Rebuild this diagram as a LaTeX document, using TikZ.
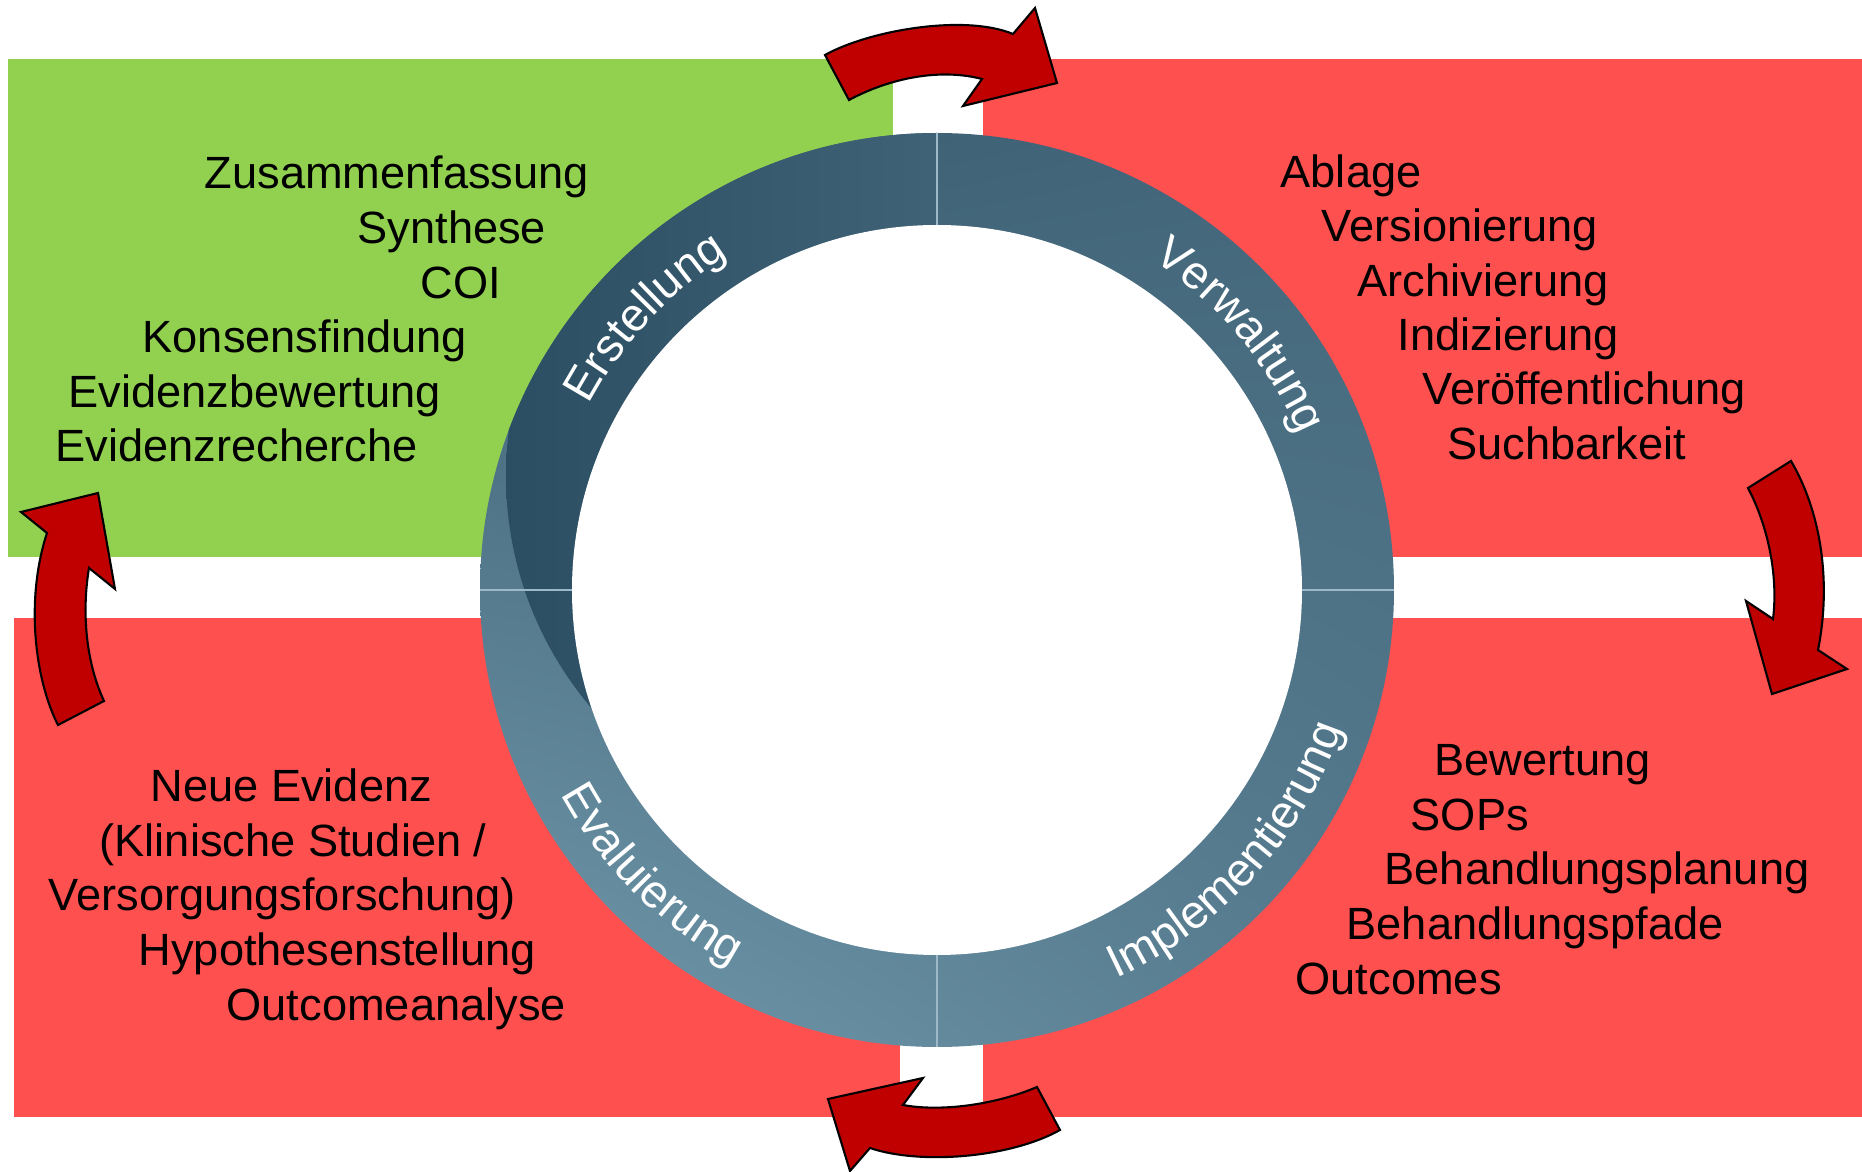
\documentclass[tikz,border=0pt]{standalone}
\usepackage{fontspec}
\setmainfont{Liberation Sans}
\usetikzlibrary{positioning,decorations.text,shadings}
\definecolor{leafgreen}{HTML}{92D050}
\definecolor{softred}{HTML}{FF5050}
\definecolor{darkred}{HTML}{C00000}
\definecolor{ringtop}{HTML}{3F6276}
\definecolor{ringdark}{HTML}{2A4D61}
\definecolor{ringul}{HTML}{3A5D71}
\definecolor{ringur}{HTML}{44677B}
\definecolor{ringll}{HTML}{7299AC}
\definecolor{ringlr}{HTML}{567B8F}
\definecolor{ringline}{HTML}{9DB9C8}
\newcommand\ringfont{\fontsize{13.2pt}{15pt}\selectfont\color{white}}

\begin{document}
\begin{tikzpicture}[x=0.01cm,y=0.01cm,
  item/.style={anchor=base west,inner sep=0pt,font=\fontsize{12.85pt}{15pt}\selectfont},
  turn/.style={fill=darkred,draw=black,line width=0.6pt,line join=miter},
  sepline/.style={draw=ringline,line width=0.5pt},
  ringtext/.style={decorate,decoration={text along path,text align=center,text={|\ringfont|#1}}}]
\useasboundingbox (0,0) rectangle (1862,1172);
\fill[leafgreen] (8,615) rectangle (893,1113);
\fill[softred] (983,615) rectangle (1862,1113);
\fill[softred] (14,55) rectangle (900,554);
\fill[softred] (983,55) rectangle (1862,554);

\begin{scope}[shift={(937,582)}]
  \begin{scope}
    \clip (0,0) circle[radius=457];
    \shade[upper left=ringul,upper right=ringur,lower left=ringll,lower right=ringlr] (-457,-457) rectangle (457,457);
    \clip (-73,114) circle[radius=358];
    \shade[left color=ringdark,right color=ringtop] (-457,-457) rectangle (0,457);
  \end{scope}
  \fill[white] (0,0) circle[radius=365];
  \draw[sepline] (0,365) -- (0,457);
  \draw[sepline] (0,-365) -- (0,-457);
  \draw[sepline] (365,0) -- (457,0);
  \draw[sepline] (-365,0) -- (-457,0);
  \path[ringtext=Erstellung] (172:394) arc[start angle=172,end angle=102,radius=394];
  \path[ringtext=Verwaltung] (75:394) arc[start angle=75,end angle=5,radius=394];
  \path[ringtext=Implementierung] (-84:428) arc[start angle=-84,end angle=0,radius=428];
  \path[ringtext=Evaluierung] (190:428) arc[start angle=190,end angle=260,radius=428];
\end{scope}

\fill[turn] (825,1117) .. controls (870,1142) and (965,1158) .. (1013,1138) -- (1035,1164) -- (1057,1089) -- (963,1066) -- (982,1093) .. controls (940,1104) and (890,1094) .. (849,1072) -- cycle;
\draw[turn] (1748,684) -- (1791,711) .. controls (1820,662) and (1832,592) .. (1818,522) -- (1847,503) -- (1772,478) -- (1746,571) -- (1773,553) .. controls (1778,592) and (1770,642) .. (1748,684) -- cycle;
\draw[turn] (828,73) -- (923,94) -- (903,67) .. controls (940,60) and (995,67) .. (1037,85) -- (1060,42) .. controls (1010,14) and (920,7) .. (870,24) -- (850,1) -- cycle;
\draw[turn] (98,679) -- (115,583) -- (89,604) .. controls (82,562) and (85,512) .. (104,471) -- (58,447) .. controls (35,492) and (25,572) .. (47,639) -- (21,660) -- cycle;

\node[item] (g1) at (204,983) {Zusammenfassung};
\node[item] (g2) at (357,928) {Synthese};
\node[item] (g3) at (420,873) {COI};
\node[item] (g4) at (142,819) {Konsensfindung};
\node[item] (g5) at (68,764) {Evidenzbewertung};
\node[item] (g6) at (55,710) {Evidenzrecherche};

\node[item] (v1) at (1280,984) {Ablage};
\node[item] (v2) at (1321,930) {Versionierung};
\node[item] (v3) at (1357,875) {Archivierung};
\node[item] (v4) at (1397,821) {Indizierung};
\node[item] (v5) at (1422,767) {Veröffentlichung};
\node[item] (v6) at (1447,712) {Suchbarkeit};

\node[item] (i1) at (1434,396) {Bewertung};
\node[item] (i2) at (1410,341) {SOPs};
\node[item] (i3) at (1384,287) {Behandlungsplanung};
\node[item] (i4) at (1346,232) {Behandlungspfade};
\node[item] (i5) at (1295,177) {Outcomes};

\node[item] (e1) at (150,370) {Neue Evidenz};
\node[item] (e2) at (99,315) {(Klinische Studien /};
\node[item] (e3) at (48,261) {Versorgungsforschung)};
\node[item] (e4) at (138,206) {Hypothesenstellung};
\node[item] (e5) at (226,151) {Outcomeanalyse};
\end{tikzpicture}
\end{document}
